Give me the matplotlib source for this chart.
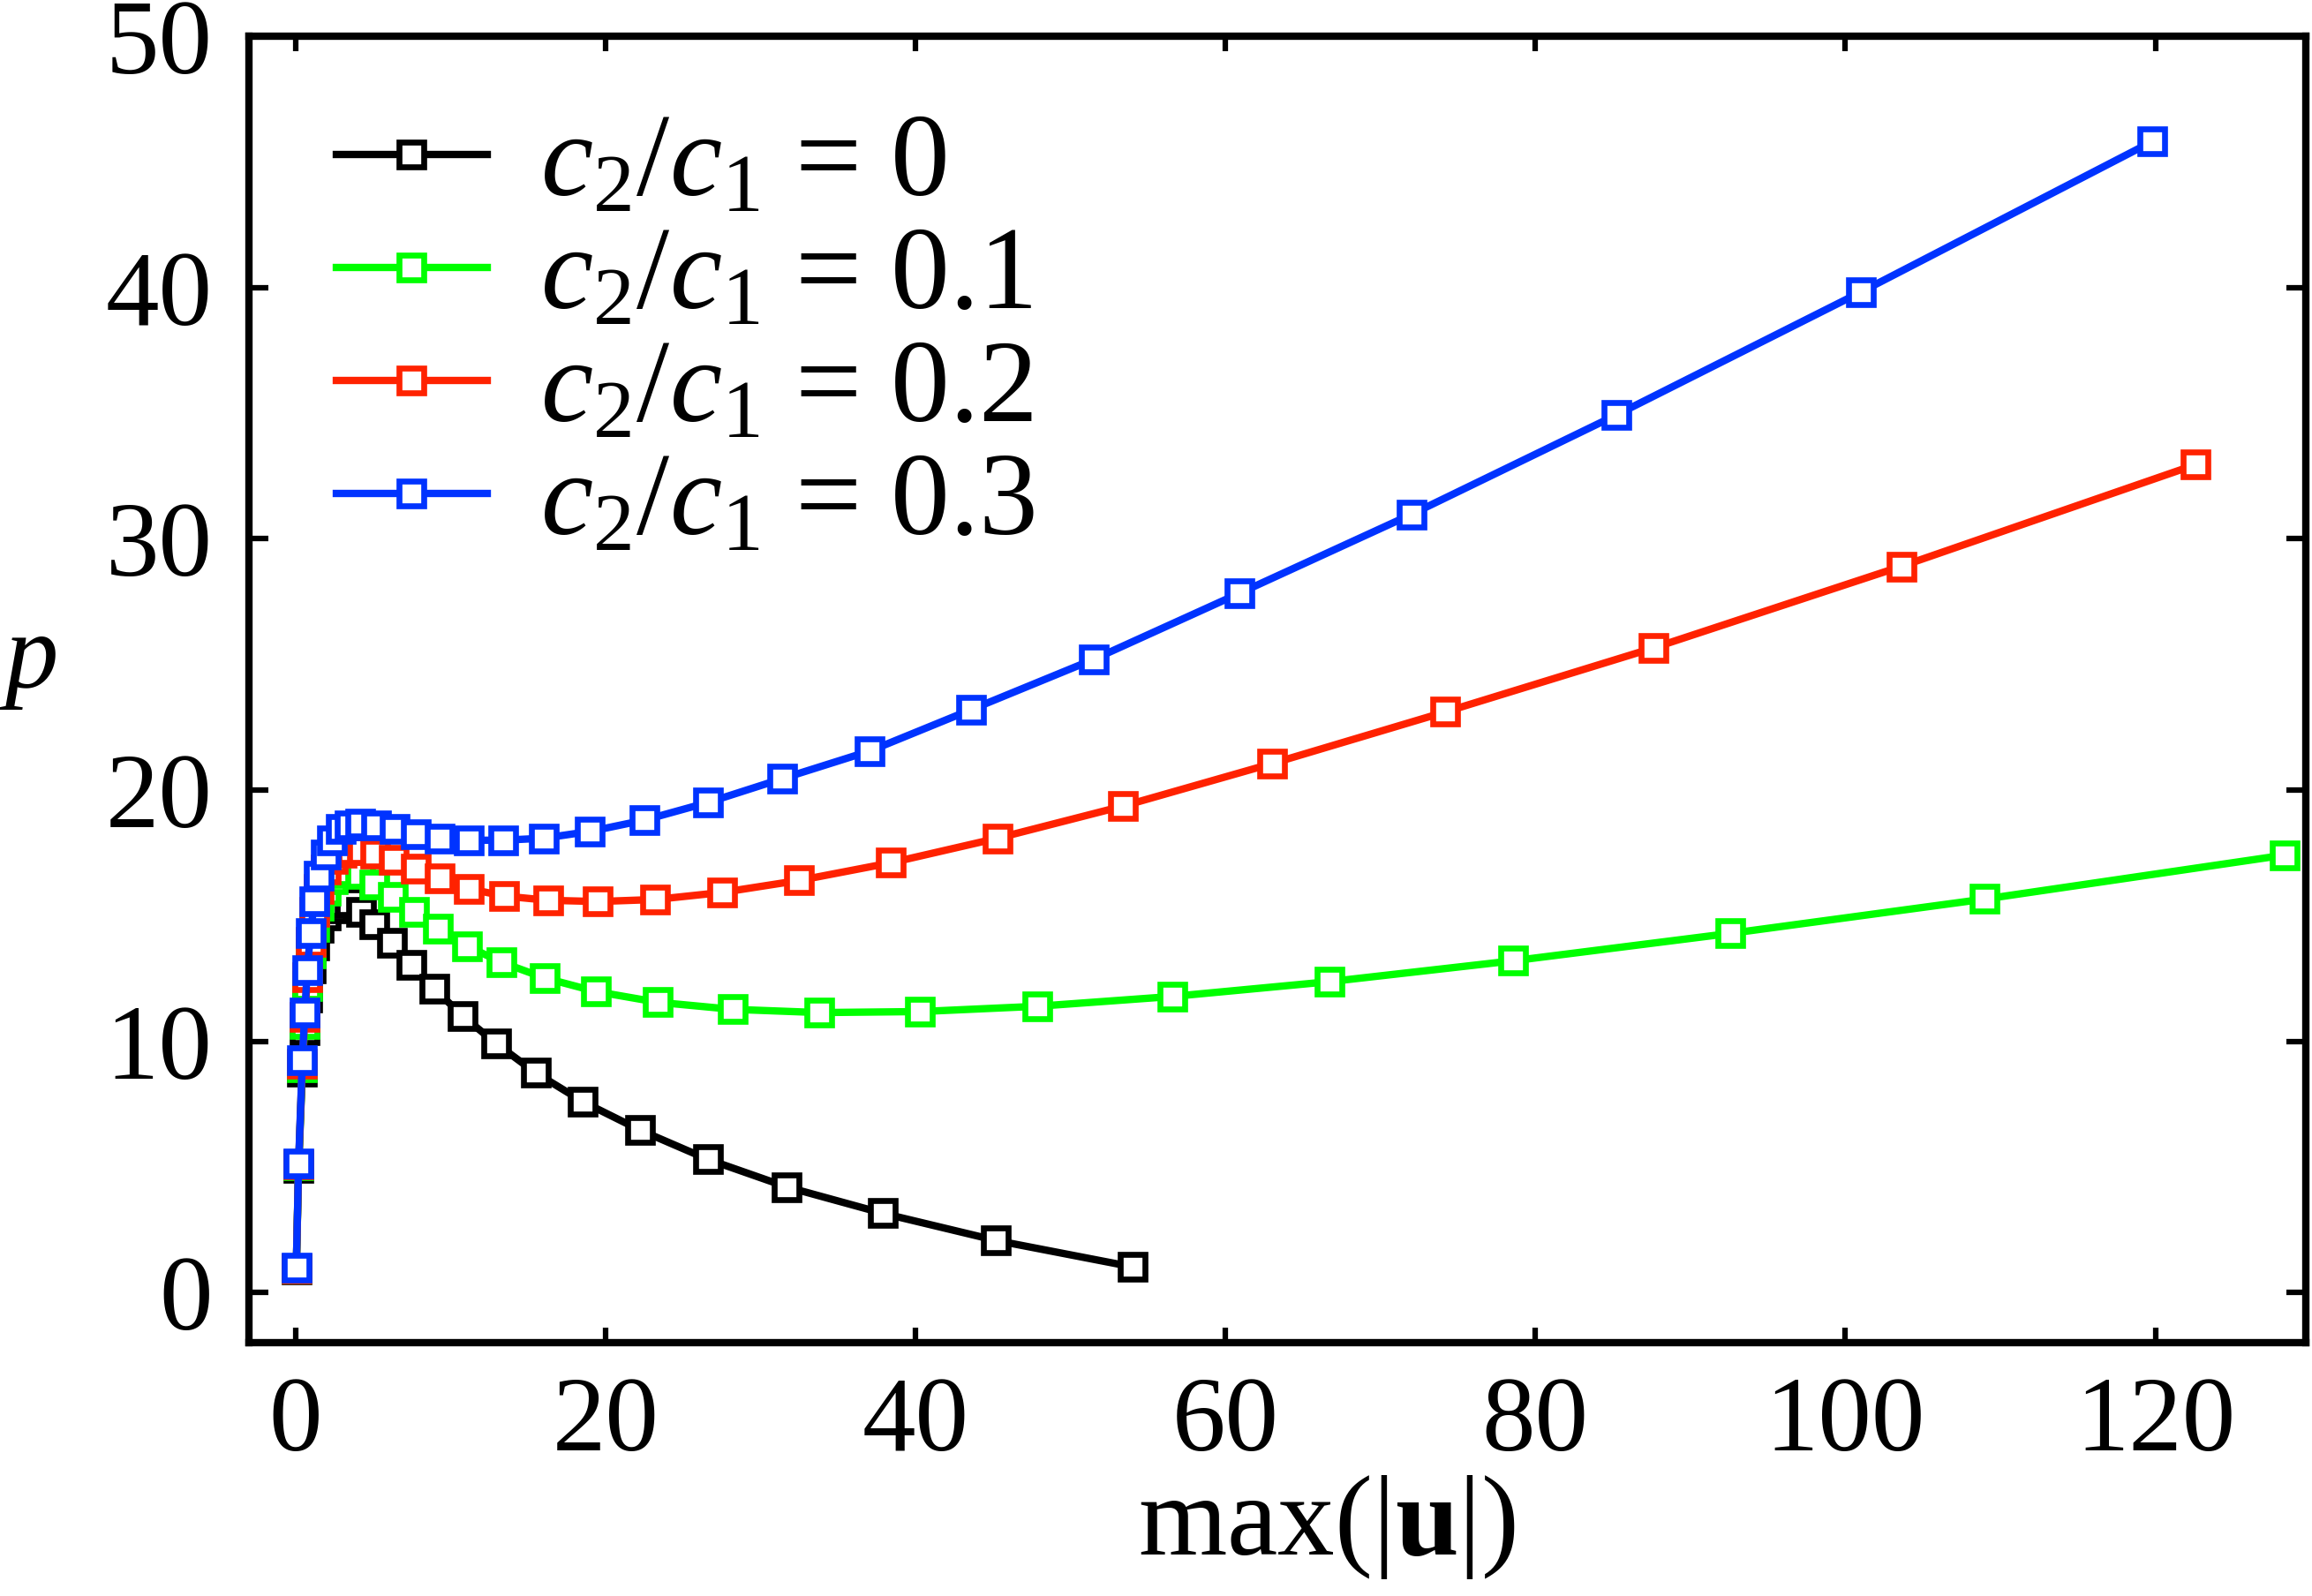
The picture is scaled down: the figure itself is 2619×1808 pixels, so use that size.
import matplotlib
matplotlib.use("Agg")
import matplotlib.pyplot as plt

plt.rcParams['font.family'] = ['Liberation Serif', 'DejaVu Serif']
plt.rcParams['mathtext.fontset'] = 'custom'
plt.rcParams['mathtext.rm'] = 'Liberation Serif'
plt.rcParams['mathtext.it'] = 'Liberation Serif:italic'
plt.rcParams['mathtext.bf'] = 'Liberation Serif:bold'

# c2/c1 = 0
x_0 = [0.05, 0.2, 0.44, 0.6, 0.76, 0.97, 1.22, 1.5, 1.95, 2.4, 2.95, 3.5, 4.25, 5.1,
       6.22, 7.48, 8.97, 10.78, 12.92, 15.48, 18.55, 22.2, 26.6, 31.7, 37.9, 45.2, 54.0]
p_0 = [0.93, 4.95, 8.8, 10.43, 11.75, 12.9, 13.8, 14.5, 15.0, 15.3, 15.5, 15.55, 15.15, 14.65,
       13.93, 13.05, 12.08, 11.01, 9.92, 8.75, 7.59, 6.47, 5.3, 4.2, 3.15, 2.07, 1.02]

# c2/c1 = 0.1
x_1 = [0.05, 0.2, 0.44, 0.6, 0.76, 0.97, 1.22, 1.5, 1.95, 2.4, 2.95, 3.5, 4.2, 5.1, 6.3, 7.65,
       9.16, 11.06, 13.3, 16.06, 19.37, 23.37, 28.18, 33.78, 40.31, 47.84, 56.55, 66.7, 78.54,
       92.55, 109.0, 128.36]
p_1 = [0.95, 5.05, 8.97, 10.67, 12.2, 13.5, 14.55, 15.4, 16.0, 16.45, 16.7, 16.78, 16.65, 16.24,
       15.75, 15.16, 14.47, 13.79, 13.14, 12.52, 11.98, 11.55, 11.27, 11.14, 11.18, 11.39, 11.78,
       12.37, 13.2, 14.29, 15.66, 17.41]

# c2/c1 = 0.2
x_2 = [0.05, 0.2, 0.44, 0.6, 0.76, 0.97, 1.22, 1.5, 1.95, 2.4, 2.95, 3.6, 4.3, 5.12, 6.36, 7.75,
       9.32, 11.19, 13.43, 16.28, 19.5, 23.2, 27.5, 32.5, 38.4, 45.3, 53.4, 63.0, 74.2, 87.6,
       103.6, 122.6]
p_2 = [0.97, 5.1, 9.1, 10.95, 12.55, 13.95, 15.15, 16.05, 16.85, 17.25, 17.5, 17.62, 17.62, 17.48,
       17.22, 16.86, 16.48, 16.07, 15.78, 15.61, 15.56, 15.64, 15.92, 16.4, 17.1, 18.08, 19.36,
       21.05, 23.11, 25.65, 28.9, 32.95]

# c2/c1 = 0.3
x_3 = [0.05, 0.2, 0.44, 0.6, 0.76, 0.97, 1.22, 1.5, 1.95, 2.35, 2.9, 3.5, 4.2, 5.2, 6.4, 7.75,
       9.3, 11.2, 13.4, 16.0, 19.0, 22.5, 26.6, 31.4, 37.05, 43.6, 51.5, 60.9, 72.0, 85.2,
       101.0, 119.8]
p_3 = [1.0, 5.15, 9.25, 11.15, 12.84, 14.31, 15.57, 16.58, 17.42, 18.0, 18.44, 18.6, 18.67, 18.6,
       18.45, 18.25, 18.08, 18.0, 18.0, 18.08, 18.35, 18.8, 19.5, 20.45, 21.55, 23.2, 25.2,
       27.83, 30.97, 34.92, 39.82, 45.81]

labels = [r'$c_2/c_1$ = 0', r'$c_2/c_1$ = 0.1', r'$c_2/c_1$ = 0.2', r'$c_2/c_1$ = 0.3']
colors = ['#000000', '#00ff00', '#ff2200', '#0033ff']

fig = plt.figure(figsize=(2619 / 300, 1808 / 300), dpi=300)
ax = fig.add_axes([0.1077, 0.1587, 0.8896, 0.8186])

for xs, ps, lab, col in zip([x_0, x_1, x_2, x_3], [p_0, p_1, p_2, p_3], labels, colors):
    ax.plot(xs, ps, '-s', color=col, lw=2.0, ms=6.5, mew=1.6, mfc='white', mec=col, label=lab)

ax.set_xlim(-3, 129.7)
ax.set_ylim(-2, 50)
ax.set_xticks([0, 20, 40, 60, 80, 100, 120])
ax.set_yticks([0, 10, 20, 30, 40, 50])

for s in ax.spines.values():
    s.set_linewidth(2)
ax.tick_params(axis='x', direction='in', top=True, length=4, width=1.5, pad=9, labelsize=29)
ax.tick_params(axis='y', direction='in', right=True, length=5.3, width=1.5, pad=10, labelsize=29)

ax.set_xlabel(r'$\mathrm{max}\left(|\mathbf{u}|\right)$', fontsize=31)
ax.xaxis.set_label_coords(0.524, -0.1)
ax.set_ylabel(r'$p$', fontsize=29, rotation=0, ha='center', va='center')
ax.yaxis.set_label_coords(-0.108, 0.52)

ax.legend(loc='upper left', bbox_to_anchor=(0.0425, 0.941), frameon=False, fontsize=32,
          handlelength=1.28, handletextpad=0.45, labelspacing=0.05, borderpad=0,
          borderaxespad=0, numpoints=1)

fig.savefig('out.png', dpi=300)
